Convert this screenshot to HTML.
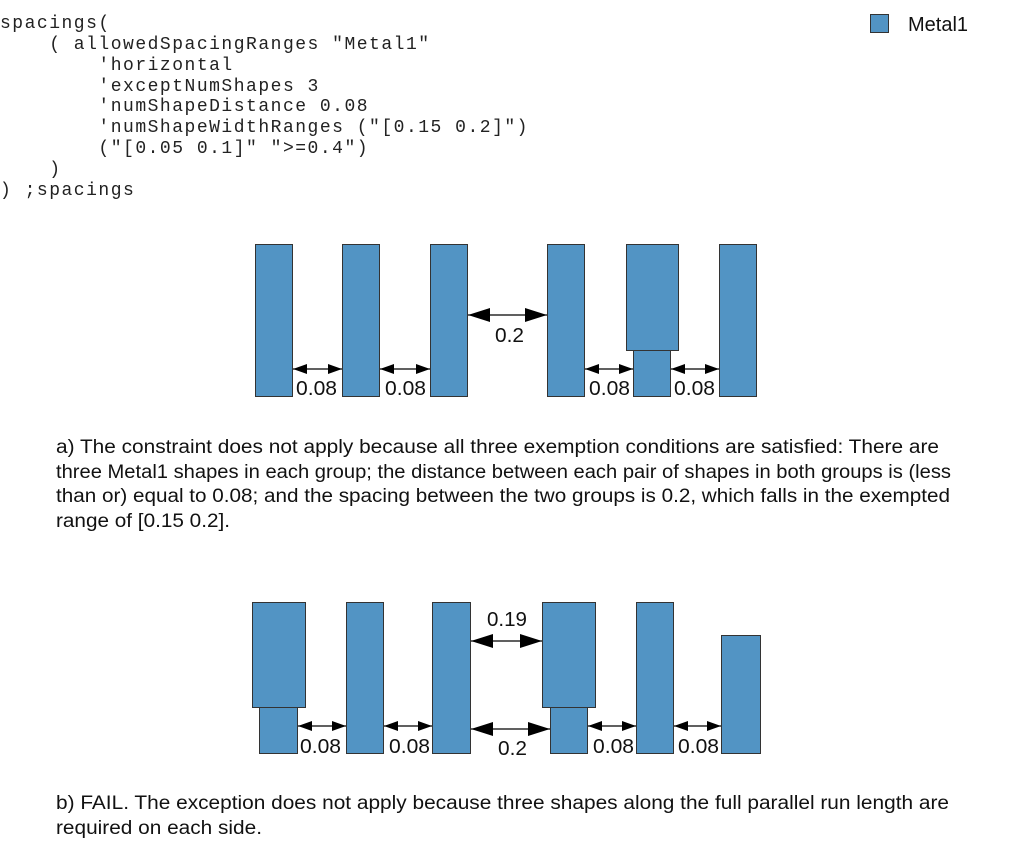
<!DOCTYPE html>
<html><head><meta charset="utf-8"><style>
html,body{margin:0;padding:0;background:#fff;width:1013px;height:868px;overflow:hidden}
svg{display:block}
.m{font-family:"Liberation Mono",monospace;font-size:18px;letter-spacing:1.5px;fill:#222}
.s{font-family:"Liberation Sans",sans-serif;font-size:19px;fill:#111}
.l{font-family:"Liberation Sans",sans-serif;font-size:20px;fill:#111}
.r{fill:#5294c4;stroke:#333;stroke-width:1}
</style></head><body>
<svg width="1013" height="868" viewBox="0 0 1013 868" xmlns="http://www.w3.org/2000/svg">
<defs>
<marker id="h" viewBox="0 0 14 10" refX="14" refY="5" markerWidth="14" markerHeight="10" markerUnits="userSpaceOnUse" orient="auto-start-reverse"><path d="M0,0L14,5L0,10z" fill="#000"/></marker>
<marker id="H" viewBox="0 0 22 14" refX="22" refY="7" markerWidth="22" markerHeight="14" markerUnits="userSpaceOnUse" orient="auto-start-reverse"><path d="M0,0L22,7L0,14z" fill="#000"/></marker>
</defs>
<g class="m">
<text x="0" y="28">spacings(</text>
<text x="0" y="49" xml:space="preserve">    ( allowedSpacingRanges "Metal1"</text>
<text x="0" y="70" xml:space="preserve">        'horizontal</text>
<text x="0" y="91" xml:space="preserve">        'exceptNumShapes 3</text>
<text x="0" y="111" xml:space="preserve">        'numShapeDistance 0.08</text>
<text x="0" y="132" xml:space="preserve">        'numShapeWidthRanges ("[0.15 0.2]")</text>
<text x="0" y="153" xml:space="preserve">        ("[0.05 0.1]" "&gt;=0.4")</text>
<text x="0" y="174" xml:space="preserve">    )</text>
<text x="0" y="195" xml:space="preserve">) ;spacings</text>
</g>
<rect class="r" x="870.5" y="14.5" width="18" height="18"/>
<text class="l" x="908" y="31" textLength="60" lengthAdjust="spacingAndGlyphs">Metal1</text>

<!-- diagram a -->
<rect class="r" x="255.5" y="244.5" width="37" height="152"/>
<rect class="r" x="342.5" y="244.5" width="37" height="152"/>
<rect class="r" x="430.5" y="244.5" width="37" height="152"/>
<rect class="r" x="547.5" y="244.5" width="37" height="152"/>
<rect class="r" x="633.5" y="350.5" width="37" height="46"/>
<rect class="r" x="626.5" y="244.5" width="52" height="106"/>
<rect class="r" x="719.5" y="244.5" width="37" height="152"/>
<g stroke="#000" stroke-width="1.2">
<line x1="293" y1="369" x2="342" y2="369" marker-start="url(#h)" marker-end="url(#h)"/>
<line x1="380" y1="369" x2="430" y2="369" marker-start="url(#h)" marker-end="url(#h)"/>
<line x1="585" y1="369" x2="633" y2="369" marker-start="url(#h)" marker-end="url(#h)"/>
<line x1="671" y1="369" x2="719" y2="369" marker-start="url(#h)" marker-end="url(#h)"/>
<line x1="468" y1="315" x2="547" y2="315" marker-start="url(#H)" marker-end="url(#H)"/>
</g>
<g class="l">
<text x="296" y="395" textLength="41" lengthAdjust="spacingAndGlyphs">0.08</text>
<text x="385" y="395" textLength="41" lengthAdjust="spacingAndGlyphs">0.08</text>
<text x="589" y="395" textLength="41" lengthAdjust="spacingAndGlyphs">0.08</text>
<text x="674" y="395" textLength="41" lengthAdjust="spacingAndGlyphs">0.08</text>
<text x="495" y="342" textLength="29" lengthAdjust="spacingAndGlyphs">0.2</text>
</g>
<g class="s">
<text x="56" y="453" textLength="883" lengthAdjust="spacingAndGlyphs">a) The constraint does not apply because all three exemption conditions are satisfied: There are</text>
<text x="56" y="478" textLength="895" lengthAdjust="spacingAndGlyphs">three Metal1 shapes in each group; the distance between each pair of shapes in both groups is (less</text>
<text x="56" y="502" textLength="894" lengthAdjust="spacingAndGlyphs">than or) equal to 0.08; and the spacing between the two groups is 0.2, which falls in the exempted</text>
<text x="56" y="527" textLength="174" lengthAdjust="spacingAndGlyphs">range of [0.15 0.2].</text>
</g>

<!-- diagram b -->
<rect class="r" x="259.5" y="707.5" width="38" height="46"/>
<rect class="r" x="252.5" y="602.5" width="53" height="105"/>
<rect class="r" x="346.5" y="602.5" width="37" height="151"/>
<rect class="r" x="432.5" y="602.5" width="38" height="151"/>
<rect class="r" x="550.5" y="707.5" width="37" height="46"/>
<rect class="r" x="542.5" y="602.5" width="53" height="105"/>
<rect class="r" x="636.5" y="602.5" width="37" height="151"/>
<rect class="r" x="721.5" y="635.5" width="39" height="118"/>
<g stroke="#000" stroke-width="1.2">
<line x1="298" y1="726" x2="346" y2="726" marker-start="url(#h)" marker-end="url(#h)"/>
<line x1="384" y1="726" x2="432" y2="726" marker-start="url(#h)" marker-end="url(#h)"/>
<line x1="588" y1="726" x2="636" y2="726" marker-start="url(#h)" marker-end="url(#h)"/>
<line x1="674" y1="726" x2="721" y2="726" marker-start="url(#h)" marker-end="url(#h)"/>
<line x1="471" y1="641" x2="542" y2="641" marker-start="url(#H)" marker-end="url(#H)"/>
<line x1="471" y1="729" x2="550" y2="729" marker-start="url(#H)" marker-end="url(#H)"/>
</g>
<g class="l">
<text x="300" y="753" textLength="41" lengthAdjust="spacingAndGlyphs">0.08</text>
<text x="389" y="753" textLength="41" lengthAdjust="spacingAndGlyphs">0.08</text>
<text x="593" y="753" textLength="41" lengthAdjust="spacingAndGlyphs">0.08</text>
<text x="678" y="753" textLength="41" lengthAdjust="spacingAndGlyphs">0.08</text>
<text x="487" y="626" textLength="40" lengthAdjust="spacingAndGlyphs">0.19</text>
<text x="498" y="755" textLength="29" lengthAdjust="spacingAndGlyphs">0.2</text>
</g>
<g class="s">
<text x="56" y="809" textLength="893" lengthAdjust="spacingAndGlyphs">b) FAIL. The exception does not apply because three shapes along the full parallel run length are</text>
<text x="56" y="834" textLength="206" lengthAdjust="spacingAndGlyphs">required on each side.</text>
</g>
</svg>
</body></html>
